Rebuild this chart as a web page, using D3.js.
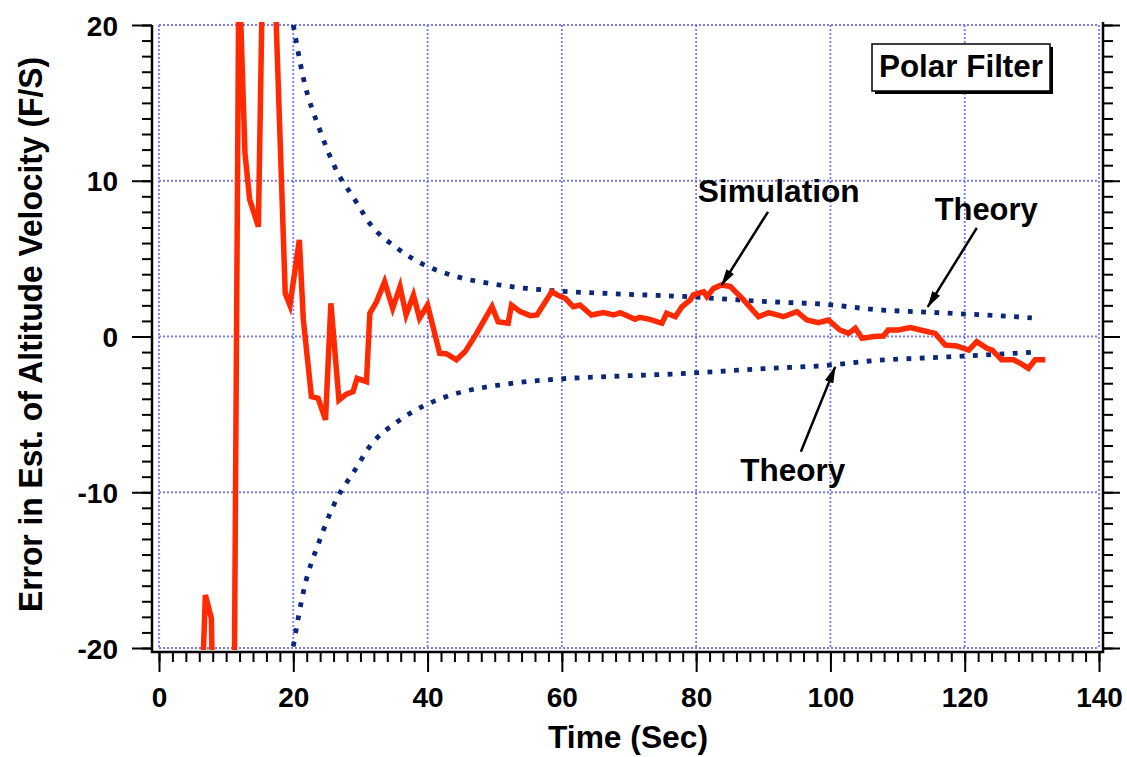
<!DOCTYPE html>
<html lang="en">
<head>
<meta charset="UTF-8">
<title>Polar Filter</title>
<script src="https://d3js.org/d3.v7.min.js"></script>
<style>
    body { margin: 0; background: #fff; }
    text { font-family: "Liberation Sans", Arial, Helvetica, sans-serif; font-weight: bold; fill: #000; }
    .tick text { font-size: 28px; }
    .lbl { font-size: 31px; }
</style>
</head>
<body>
<svg width="1127" height="757"></svg>
<script>
    // theory bounds (dotted)
    const theoryT     = [20, 21.5, 24, 26.5, 29, 31.5, 35.5, 39.5, 43.5, 51.5, 59.5, 67.5, 77.5, 91, 99, 107, 115, 123, 130];
    const theoryUpper = [20, 16.6, 13.2, 10.6, 8.9, 7.2, 5.66, 4.6, 3.95, 3.26, 2.92, 2.75, 2.58, 2.23, 2.07, 1.72, 1.55, 1.38, 1.2];
    const theoryLower = [-19.9, -16.4, -13.0, -10.4, -8.7, -7.0, -5.47, -4.44, -3.76, -3.07, -2.73, -2.56, -2.39, -2.04, -1.87, -1.53, -1.36, -1.19, -1.01];

    // simulation error
    const simT = [6.0, 6.9, 7.8, 8.3, 11.1, 11.9, 12.8, 13.5, 14.8, 15.6, 17.0, 18.8, 19.5, 20.9, 21.5, 22.7, 23.7, 24.8, 25.6, 26.8,
        27.9, 28.9, 29.5, 30.9, 31.4, 32.4, 33.6, 34.8, 35.9, 36.8, 37.9, 38.8, 40.0, 41.8, 42.8, 44.3, 45.6, 47.3, 49.6, 50.5,
        52.0, 52.5, 53.8, 55.3, 56.3, 58.5, 59.3, 60.5, 61.7, 62.7, 64.4, 66.2, 67.7, 68.7, 70.9, 71.6, 73.1, 74.9, 75.6, 76.9,
        77.9, 79.1, 79.6, 81.1, 81.6, 82.6, 83.8, 85.1, 87.1, 89.3, 90.8, 93.0, 95.0, 96.5, 98.2, 99.7, 101.4, 102.7, 103.7, 104.7,
        106.4, 107.9, 108.6, 110.1, 111.9, 113.9, 115.6, 117.1, 118.8, 120.6, 121.8, 123.3, 124.1, 125.5, 127.3, 128.3, 129.5, 130.5, 132.0];
    const simV = [-28, -16.6, -18.1, -30, -30, 24, 11.8, 8.8, 7.05, 28, 26, 2.77, 2.0, 6.2, 1.06, -3.86, -3.97, -5.36, 2.13, -4.08,
        -3.7, -3.54, -2.69, -2.9, 1.49, 2.23, 3.52, 1.81, 3.2, 1.38, 2.66, 1.17, 2.02, -1.08, -1.1, -1.5, -0.97, 0.2, 1.92, 0.95,
        0.85, 2.02, 1.6, 1.34, 1.38, 2.88, 2.67, 2.45, 1.91, 2.02, 1.38, 1.53, 1.38, 1.53, 1.1, 1.23, 1.1, 0.85, 1.49, 1.27,
        1.92, 2.34, 2.67, 2.88, 2.56, 3.09, 3.31, 3.2, 2.34, 1.27, 1.53, 1.27, 1.6, 1.06, 0.89, 1.06, 0.42, 0.2, 0.53, -0.12,
        0, 0.03, 0.42, 0.42, 0.57, 0.37, 0.2, -0.55, -0.61, -0.87, -0.33, -0.76, -0.87, -1.5, -1.5, -1.72, -2.04, -1.5, -1.5];

    const xMajor = [0, 20, 40, 60, 80, 100, 120, 140];
    const yMajor = [-20, -10, 0, 10, 20];

    // annotations: text, text anchor point, arrow tail, arrow tip (data units)
    const notes = [
        {text: "Simulation", at: [92.3, 8.64], from: [90.7, 8.0], to: [83.8, 3.3], w: 162},
        {text: "Theory", at: [123.2, 7.48], from: [121.8, 6.97], to: [114.5, 1.9], w: 103},
        {text: "Theory", at: [94.4, -9.28], from: [95.6, -7.4], to: [100.7, -1.96], w: 105}
    ];

    const svg = d3.select("svg");
    const x = d3.scaleLinear().domain([0, 140]).range([159, 1099]);
    const y = d3.scaleLinear().domain([-20, 20]).range([648, 25]);
    const frameL = 152, frameR = 1103, frameB = 652, frameT = 22;

    svg.append("defs").append("clipPath").attr("id", "clip")
        .append("rect").attr("x", frameL).attr("y", frameT)
        .attr("width", frameR - frameL).attr("height", 650 - frameT);

    // grid
    const grid = svg.append("g").attr("stroke", "#7878ff").attr("stroke-width", 1.8)
        .attr("stroke-dasharray", "2,2");
    grid.selectAll("line.v").data(xMajor).join("line").attr("class", "v")
        .attr("x1", d => x(d)).attr("x2", d => x(d))
        .attr("y1", y(20)).attr("y2", y(-20));
    grid.selectAll("line.h").data(yMajor).join("line").attr("class", "h")
        .attr("y1", d => y(d)).attr("y2", d => y(d))
        .attr("x1", x(0)).attr("x2", x(140));

    // axes
    function axisG(axis, tx, ty) {
        const g = svg.append("g").attr("transform", `translate(${tx},${ty})`).call(axis);
        g.select(".domain").remove();
        g.selectAll("line").attr("stroke", "#000").attr("stroke-width", 2);
        return g;
    }
    const plain = d => String(d);   // keep ASCII hyphen for negatives
    axisG(d3.axisBottom(x).tickValues(d3.range(0, 141, 2)).tickSize(10).tickFormat(""), 0, frameB);
    const xg = axisG(d3.axisBottom(x).tickValues(xMajor).tickSize(20).tickFormat(plain), 0, frameB);
    xg.selectAll("text").attr("y", 55).attr("dy", 0);

    axisG(d3.axisLeft(y).tickValues(d3.range(-20, 21, 1)).tickSize(10).tickFormat(""), frameL, 0);
    const yg = axisG(d3.axisLeft(y).tickValues(yMajor).tickSize(20).tickFormat(plain), frameL, 0);
    yg.selectAll("text").attr("x", -34).attr("dy", "0.36em");

    axisG(d3.axisRight(y).tickValues(d3.range(-20, 21, 1)).tickSize(10).tickFormat(""), frameR, 0);
    axisG(d3.axisRight(y).tickValues(yMajor).tickSize(17).tickFormat(""), frameR, 0);

    svg.append("path").attr("fill", "none").attr("stroke", "#000").attr("stroke-width", 2.5)
        .attr("d", `M${frameL},${y(20)}V${frameB}H${frameR}V${frameT}`);

    // theory dotted curves
    const plot = svg.append("g").attr("clip-path", "url(#clip)");
    const tLine = d3.line().x(d => x(d[0])).y(d => y(d[1])).curve(d3.curveMonotoneX);
    [theoryUpper, theoryLower].forEach(vals => {
        plot.append("path")
            .attr("d", tLine(theoryT.map((t, i) => [t, vals[i]])))
            .attr("fill", "none").attr("stroke", "#0a2778").attr("stroke-width", 4.8)
            .attr("stroke-dasharray", "4.8,8.5");
    });

    // simulation
    plot.append("path")
        .attr("d", d3.line().x(d => x(d[0])).y(d => y(d[1]))(simT.map((t, i) => [t, simV[i]])))
        .attr("fill", "none").attr("stroke", "#ff2a00").attr("stroke-width", 5.5)
        .attr("stroke-linejoin", "miter");

    // annotations
    svg.select("defs").append("marker").attr("id", "arr")
        .attr("markerUnits", "userSpaceOnUse").attr("markerWidth", 17).attr("markerHeight", 9)
        .attr("refX", 16).attr("refY", 4.5).attr("orient", "auto")
        .append("path").attr("d", "M0,0L17,4.5L0,9Z").attr("fill", "#000");
    notes.forEach(n => {
        svg.append("line")
            .attr("x1", x(n.from[0])).attr("y1", y(n.from[1]))
            .attr("x2", x(n.to[0])).attr("y2", y(n.to[1]))
            .attr("stroke", "#000").attr("stroke-width", 2.5).attr("marker-end", "url(#arr)");
        svg.append("text").attr("class", "lbl")
            .attr("x", x(n.at[0])).attr("y", y(n.at[1]))
            .attr("text-anchor", "middle")
            .attr("textLength", n.w).attr("lengthAdjust", "spacingAndGlyphs")
            .text(n.text);
    });

    // Polar Filter box
    svg.append("rect").attr("x", 875).attr("y", 47).attr("width", 178).attr("height", 47).attr("fill", "#000");
    svg.append("rect").attr("x", 872).attr("y", 44).attr("width", 178).attr("height", 47)
        .attr("fill", "#fff").attr("stroke", "#000").attr("stroke-width", 1.5);
    svg.append("text").attr("class", "lbl").attr("x", 961).attr("y", 77)
        .attr("text-anchor", "middle").attr("textLength", 164).attr("lengthAdjust", "spacingAndGlyphs")
        .text("Polar Filter");

    // axis titles
    svg.append("text").attr("class", "lbl").attr("x", 628).attr("y", 748)
        .attr("text-anchor", "middle").attr("textLength", 160).attr("lengthAdjust", "spacingAndGlyphs")
        .text("Time (Sec)");
    svg.append("text").attr("class", "lbl").style("font-size", "33px")
        .attr("transform", `translate(42,${(57 + 612) / 2}) rotate(-90)`)
        .attr("text-anchor", "middle").attr("textLength", 555).attr("lengthAdjust", "spacingAndGlyphs")
        .text("Error in Est. of Altitude Velocity (F/S)");
</script>
</body>
</html>
